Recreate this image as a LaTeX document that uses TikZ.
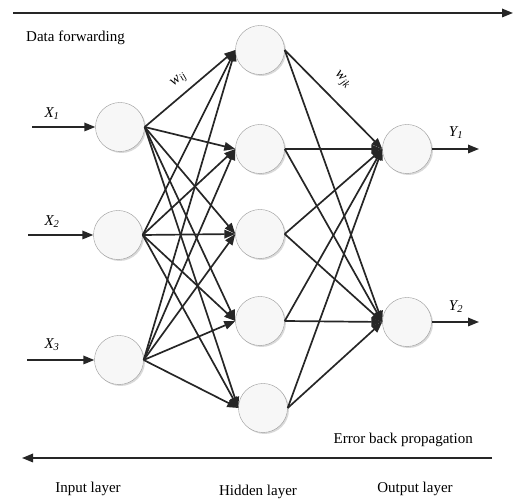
\documentclass[tikz,border=0pt]{standalone}
\usepackage{fontspec}
\setmainfont{Liberation Serif}
\usetikzlibrary{positioning, arrows.meta, shadows}
\definecolor{ink}{HTML}{262626}
\definecolor{rim}{HTML}{9a9a9a}

\begin{document}
\begin{tikzpicture}[x=1pt, y=-1pt, font=\fontsize{15}{18}\selectfont,
  neuron/.style={circle, draw=rim, fill=gray!6, minimum size=49pt, inner sep=0pt,
                 drop shadow={shadow xshift=1.5pt, shadow yshift=-1.5pt, opacity=0.3}},
  link/.style={-{Triangle[length=11pt, width=8.5pt]}, ink, line width=1.7pt},
  lbl/.style={inner sep=1pt}
]
  \useasboundingbox (0,0) rectangle (515,502);

  % direction arrows
  \coordinate (fwdA) at (13,13);
  \coordinate (fwdB) at (513,13);
  \coordinate (backA) at (492,458);
  \coordinate (backB) at (22,458);
  \draw[link] (fwdA) -- (fwdB);
  \draw[link] (backA) -- (backB);
  \node[lbl, anchor=west] (fwd) at (25,38) {Data forwarding};
  \node[lbl, anchor=east] (back) at (474,440) {Error back propagation};

  % input layer
  \node[neuron] (i1) at (120,127) {};
  \node[neuron] (i2) at (118,235) {};
  \node[neuron] (i3) at (119,360) {};

  % hidden layer
  \node[neuron] (h1) at (260,50) {};
  \node[neuron] (h2) at (260,149) {};
  \node[neuron] (h3) at (260,234) {};
  \node[neuron] (h4) at (260,321) {};
  \node[neuron] (h5) at (263,408) {};

  % output layer
  \node[neuron] (o1) at (407,149) {};
  \node[neuron] (o2) at (407,322) {};

  % inputs and outputs
  \coordinate (x1) at (32,127);
  \coordinate (x2) at (28,235);
  \coordinate (x3) at (27,360);
  \coordinate (y1) at (479,149);
  \coordinate (y2) at (479,322);
  \draw[link] (x1) -- (i1);
  \draw[link] (x2) -- (i2);
  \draw[link] (x3) -- (i3);
  \draw[link] (o1.east) -- (y1);
  \draw[link] (o2.east) -- (y2);
  \node[lbl] (lx1) at (52,114) {\textit{X\textsubscript{1}}};
  \node[lbl] (lx2) at (52,222) {\textit{X\textsubscript{2}}};
  \node[lbl] (lx3) at (52,345) {\textit{X\textsubscript{3}}};
  \node[lbl] (ly1) at (456,133) {\textit{Y\textsubscript{1}}};
  \node[lbl] (ly2) at (456,307) {\textit{Y\textsubscript{2}}};

  % input -> hidden
  \draw[link] (i1.east) -- (h1.west);
  \draw[link] (i1.east) -- (h2.west);
  \draw[link] (i1.east) -- (h3.west);
  \draw[link] (i1.east) -- (h4.west);
  \draw[link] (i1.east) -- (h5.west);
  \draw[link] (i2.east) -- (h1.west);
  \draw[link] (i2.east) -- (h2.west);
  \draw[link] (i2.east) -- (h3.west);
  \draw[link] (i2.east) -- (h4.west);
  \draw[link] (i2.east) -- (h5.west);
  \draw[link] (i3.east) -- (h1.west);
  \draw[link] (i3.east) -- (h2.west);
  \draw[link] (i3.east) -- (h3.west);
  \draw[link] (i3.east) -- (h4.west);
  \draw[link] (i3.east) -- (h5.west);

  % hidden -> output
  \draw[link] (h1.east) -- (o1.west);
  \draw[link] (h1.east) -- (o2.west);
  \draw[link] (h2.east) -- (o1.west);
  \draw[link] (h2.east) -- (o2.west);
  \draw[link] (h3.east) -- (o1.west);
  \draw[link] (h3.east) -- (o2.west);
  \draw[link] (h4.east) -- (o1.west);
  \draw[link] (h4.east) -- (o2.west);
  \draw[link] (h5.east) -- (o1.west);
  \draw[link] (h5.east) -- (o2.west);

  % weights
  \node[lbl, rotate=40] (wij) at (179,80) {\textit{w\textsubscript{ij}}};
  \node[lbl, rotate=-45] (wjk) at (342,80) {\textit{w\textsubscript{jk}}};

  % layer names
  \node[lbl] (inl) at (88,489) {Input layer};
  \node[lbl] (hidl) at (258,492) {Hidden layer};
  \node[lbl] (outl) at (415,489) {Output layer};
\end{tikzpicture}
\end{document}
